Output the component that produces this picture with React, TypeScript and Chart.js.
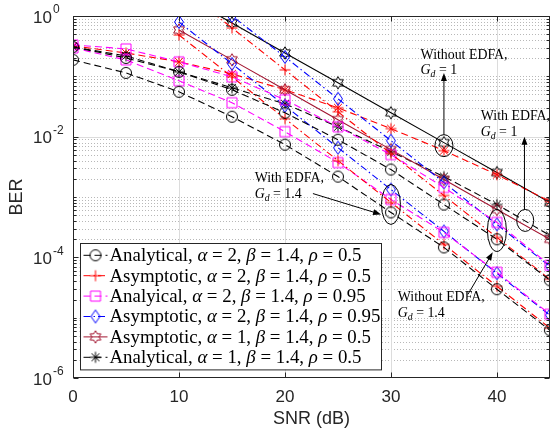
import React, { useEffect, useRef } from 'react';
import { Chart, registerables } from 'chart.js';

Chart.register(...registerables);

// SNR grids (dB)
const snrAnalytical = [0, 5, 10, 15, 20, 25, 30, 35, 40, 45];
const snrAsymptotic = [10, 15, 20, 25, 30, 35, 40, 45];

// Without EDFA, G_d = 1.4  (alpha = 2, beta = 1.4)
const anaA2R05NoEdfa = [0.307, 0.202, 0.119, 0.0598, 0.0249, 0.00891, 0.00285, 0.000751, 0.000199, 0.0000417];
const asyA2R05NoEdfa = [3.13, 0.634, 0.128, 0.0259, 0.00524, 0.00106, 0.000214, 0.0000433];
const anaA2R095NoEdfa = [0.332, 0.285, 0.174, 0.0982, 0.0409, 0.0146, 0.00504, 0.00144, 0.000379, 0.0000738];
const asyA2R095NoEdfa = [5.14, 1.0, 0.21, 0.0425, 0.00859, 0.00174, 0.000351, 0.000071];

// With EDFA, G_d = 1.4
const anaA2R05Edfa = [0.1875, 0.114, 0.0554, 0.0214, 0.00738, 0.00218, 0.000555, 0.000146, 0.0000296, 0.0000062];
const asyA2R05Edfa = [0.485, 0.0982, 0.0199, 0.00401, 0.000811, 0.000164, 0.0000332, 0.0000067];
const anaA2R095Edfa = [0.296, 0.1875, 0.0843, 0.0365, 0.0121, 0.00372, 0.00091, 0.000259, 0.0000565, 0.0000114];
const asyA2R095Edfa = [0.796, 0.161, 0.0325, 0.00658, 0.00133, 0.000269, 0.0000544, 0.000011];

// G_d = 1, alpha = 1, rho = 0.5
const anaA1NoEdfa = [0.319, 0.244, 0.174, 0.11, 0.0598, 0.0301, 0.0136, 0.00587, 0.00235, 0.000843];
const asyA1NoEdfa = [2.4, 0.766, 0.244, 0.0782, 0.0249, 0.00796, 0.00254, 0.000811];
const anaA1Edfa = [0.307, 0.218, 0.119, 0.0645, 0.0351, 0.0146, 0.00565, 0.00218, 0.000751, 0.000231];
const asyA1Edfa = [0.587, 0.1875, 0.0598, 0.0191, 0.0061, 0.00195, 0.000621, 0.000199];

// Axes
const xMin = 0;
const xMax = 45;
const yMin = 1e-6;
const yMax = 1;
const xTickValues = [0, 10, 20, 30, 40];
const yLabelExponents = [0, -2, -4, -6];

// Legend
const legendNames = ['Analytical', 'Asymptotic', 'Analyical', 'Asymptotic', 'Asymptotic', 'Analytical'];
const legendAlpha = ['2', '2', '2', '2', '1', '1'];
const legendBeta = ['1.4', '1.4', '1.4', '1.4', '1.4', '1.4'];
const legendRho = ['0.5', '0.5', '0.95', '0.95', '0.5', '0.5'];

// Annotation texts
const annLine1 = ['Without EDFA,', 'With EDFA,', 'With EDFA,', 'Without EDFA,'];
const annGd = ['1', '1', '1.4', '1.4'];

const BLACK = '#000000';
const RED = '#ff0000';
const MAGENTA = '#ff00ff';
const BLUE = '#0000ff';
const BROWN = '#a2142f';
const DASH = [7, 4];
const DASHDOT = [7, 3, 1.5, 3];
const SOLID: number[] = [];

const SERIF = "'Liberation Serif', 'DejaVu Serif', serif";
const SANS = "'Liberation Sans', Arial, 'DejaVu Sans', sans-serif";

type MarkerKind = 'circle' | 'plus' | 'square' | 'diamond' | 'hexagram' | 'asterisk';

function makeMarker(kind: MarkerKind, color: string): HTMLCanvasElement {
  const c = document.createElement('canvas');
  const S = 16;
  c.width = S;
  c.height = S;
  const g = c.getContext('2d')!;
  g.strokeStyle = color;
  g.lineWidth = 1;
  const m = S / 2;
  g.beginPath();
  if (kind === 'circle') {
    g.arc(m, m, 5.5, 0, Math.PI * 2);
  } else if (kind === 'plus') {
    g.moveTo(m - 5.5, m);
    g.lineTo(m + 5.5, m);
    g.moveTo(m, m - 5.5);
    g.lineTo(m, m + 5.5);
  } else if (kind === 'square') {
    g.rect(m - 5, m - 5, 10, 10);
  } else if (kind === 'diamond') {
    g.moveTo(m, m - 6.5);
    g.lineTo(m + 4.5, m);
    g.lineTo(m, m + 6.5);
    g.lineTo(m - 4.5, m);
    g.closePath();
  } else if (kind === 'hexagram') {
    const R = 6.2;
    const r = R / Math.sqrt(3);
    for (let i = 0; i < 12; i++) {
      const ang = -Math.PI / 2 + (i * Math.PI) / 6;
      const rr = i % 2 === 0 ? R : r;
      const px = m + rr * Math.cos(ang);
      const py = m + rr * Math.sin(ang);
      if (i === 0) g.moveTo(px, py);
      else g.lineTo(px, py);
    }
    g.closePath();
  } else if (kind === 'asterisk') {
    const R = 5.5;
    for (let i = 0; i < 4; i++) {
      const ang = (i * Math.PI) / 4;
      g.moveTo(m - R * Math.cos(ang), m - R * Math.sin(ang));
      g.lineTo(m + R * Math.cos(ang), m + R * Math.sin(ang));
    }
  }
  g.stroke();
  return c;
}

type Part = { t: string; it?: boolean; sub?: boolean };

function richWidth(ctx: CanvasRenderingContext2D, parts: Part[], size: number): number {
  let w = 0;
  for (const p of parts) {
    const fs = p.sub ? size * 0.7 : size;
    ctx.font = `${p.it ? 'italic ' : ''}${fs}px ${SERIF}`;
    w += ctx.measureText(p.t).width;
  }
  return w;
}

function drawRich(ctx: CanvasRenderingContext2D, parts: Part[], x: number, y: number, size: number) {
  let cx = x;
  for (const p of parts) {
    const fs = p.sub ? size * 0.7 : size;
    ctx.font = `${p.it ? 'italic ' : ''}${fs}px ${SERIF}`;
    ctx.fillText(p.t, cx, y + (p.sub ? size * 0.28 : 0));
    cx += ctx.measureText(p.t).width;
  }
}

function legendParts(i: number): Part[] {
  return [
    { t: legendNames[i] + ', ' },
    { t: 'α', it: true },
    { t: ' = ' + legendAlpha[i] + ', ' },
    { t: 'β', it: true },
    { t: ' = ' + legendBeta[i] + ', ' },
    { t: 'ρ', it: true },
    { t: ' = ' + legendRho[i] },
  ];
}

function gdParts(i: number): Part[] {
  return [{ t: 'G', it: true }, { t: 'd', it: true, sub: true }, { t: ' = ' + annGd[i] }];
}

export default function App() {
  const ref = useRef<HTMLCanvasElement>(null);

  useEffect(() => {
    const canvas = ref.current;
    if (!canvas) return;

    const mk = {
      circleK: makeMarker('circle', BLACK),
      plusR: makeMarker('plus', RED),
      squareM: makeMarker('square', MAGENTA),
      diamondB: makeMarker('diamond', BLUE),
      hexBr: makeMarker('hexagram', BROWN),
      hexK: makeMarker('hexagram', BLACK),
      astK: makeMarker('asterisk', BLACK),
      astR: makeMarker('asterisk', RED),
    };

    const series = [
      { label: 'Analytical a=2 rho=0.5 w/o EDFA', xs: snrAnalytical, ys: anaA2R05NoEdfa, color: BLACK, dash: DASH, marker: mk.circleK },
      { label: 'Analytical a=2 rho=0.5 EDFA', xs: snrAnalytical, ys: anaA2R05Edfa, color: BLACK, dash: DASH, marker: mk.circleK },
      { label: 'Asymptotic a=2 rho=0.5 w/o EDFA', xs: snrAsymptotic, ys: asyA2R05NoEdfa, color: RED, dash: DASHDOT, marker: mk.plusR },
      { label: 'Asymptotic a=2 rho=0.5 EDFA', xs: snrAsymptotic, ys: asyA2R05Edfa, color: RED, dash: DASHDOT, marker: mk.plusR },
      { label: 'Analytical a=2 rho=0.95 w/o EDFA', xs: snrAnalytical, ys: anaA2R095NoEdfa, color: MAGENTA, dash: DASH, marker: mk.squareM },
      { label: 'Analytical a=2 rho=0.95 EDFA', xs: snrAnalytical, ys: anaA2R095Edfa, color: MAGENTA, dash: DASH, marker: mk.squareM },
      { label: 'Asymptotic a=2 rho=0.95 w/o EDFA', xs: snrAsymptotic, ys: asyA2R095NoEdfa, color: BLUE, dash: DASHDOT, marker: mk.diamondB },
      { label: 'Asymptotic a=2 rho=0.95 EDFA', xs: snrAsymptotic, ys: asyA2R095Edfa, color: BLUE, dash: DASHDOT, marker: mk.diamondB },
      { label: 'Asymptotic a=1 EDFA Gd=1', xs: snrAsymptotic, ys: asyA1Edfa, color: BROWN, dash: SOLID, marker: mk.hexBr },
      { label: 'Analytical a=1 EDFA Gd=1', xs: snrAnalytical, ys: anaA1Edfa, color: BLACK, dash: DASH, marker: mk.astK },
      { label: 'Analytical a=1 w/o EDFA Gd=1', xs: snrAnalytical, ys: anaA1NoEdfa, color: RED, dash: DASH, marker: mk.astR },
      { label: 'Asymptotic a=1 w/o EDFA Gd=1', xs: snrAsymptotic, ys: asyA1NoEdfa, color: BLACK, dash: SOLID, marker: mk.hexK },
    ];

    const legendStyles = [
      { color: BLACK, dash: DASH, marker: mk.circleK },
      { color: RED, dash: DASHDOT, marker: mk.plusR },
      { color: MAGENTA, dash: DASH, marker: mk.squareM },
      { color: BLUE, dash: DASHDOT, marker: mk.diamondB },
      { color: BROWN, dash: SOLID, marker: mk.hexBr },
      { color: BLACK, dash: DASH, marker: mk.astK },
    ];

    // annotation anchors in data units (SNR dB, BER)
    const annotations = [
      { tx: 32.8, ty: 0.2266, ex: 35, ey: 0.0071, rx: 9, ry: 11, a0: [35, 'top'], a1: [35, 0.114] },
      { tx: 38.48, ty: 0.0214, ex: 42.67, ey: 0.000409, rx: 8.5, ry: 11, a0: [42.6, 'top'], a1: [42.6, 0.01] },
      { tx: 17.14, ty: 0.00202, ex: 30, ey: 0.000752, rx: 9.5, ry: 20, a0: [22.64, 0.00114], a1: [29.07, 0.000514] },
      { tx: 30.65, ty: 0.0000218, ex: 40, ey: 0.000279, rx: 9.5, ry: 21, a0: [37.27, 0.0000244], a1: [39.6, 0.000121] },
    ];

    const gridPlugin = {
      id: 'matlabGrid',
      beforeDatasetsDraw(chart: any) {
        const { ctx, chartArea: a, scales } = chart;
        const xs = scales.x;
        const ys = scales.y;
        ctx.save();
        ctx.fillStyle = '#ffffff';
        ctx.fillRect(a.left, a.top, a.right - a.left, a.bottom - a.top);
        // minor dotted horizontal grid
        ctx.strokeStyle = 'rgba(0,0,0,0.28)';
        ctx.lineWidth = 1;
        ctx.setLineDash([1, 2]);
        for (let e = 0; e >= -6; e--) {
          for (let m = 1; m <= 9; m++) {
            const v = m * Math.pow(10, e);
            if (v > yMax * 1.0001 || v < yMin * 0.9999) continue;
            if (m === 1 && e % 2 === 0) continue;
            const y = Math.round(ys.getPixelForValue(v)) + 0.5;
            ctx.beginPath();
            ctx.moveTo(a.left, y);
            ctx.lineTo(a.right, y);
            ctx.stroke();
          }
        }
        ctx.setLineDash([]);
        ctx.strokeStyle = '#dcdcdc';
        for (const e of yLabelExponents) {
          const y = Math.round(ys.getPixelForValue(Math.pow(10, e))) + 0.5;
          if (y < a.top + 2 || y > a.bottom - 2) continue;
          ctx.beginPath();
          ctx.moveTo(a.left, y);
          ctx.lineTo(a.right, y);
          ctx.stroke();
        }
        for (const t of xTickValues) {
          const x = Math.round(xs.getPixelForValue(t)) + 0.5;
          if (x < a.left + 2 || x > a.right - 2) continue;
          ctx.beginPath();
          ctx.moveTo(x, a.top);
          ctx.lineTo(x, a.bottom);
          ctx.stroke();
        }
        ctx.restore();
      },
    };

    const overlayPlugin = {
      id: 'overlay',
      afterDatasetsDraw(chart: any) {
        const { ctx, chartArea: a, scales } = chart;
        const xs = scales.x;
        const ys = scales.y;
        ctx.save();

        // ---- annotations ----
        ctx.fillStyle = '#000';
        ctx.strokeStyle = '#000';
        ctx.lineWidth = 1;
        ctx.textBaseline = 'middle';
        ctx.textAlign = 'left';
        const annSize = 87 / richWidth(ctx, [{ t: 'Without EDFA,' }], 10) * 10;
        annotations.forEach((an, i) => {
          const tx = xs.getPixelForValue(an.tx);
          const ty = ys.getPixelForValue(an.ty);
          drawRich(ctx, [{ t: annLine1[i] }], tx, ty, annSize);
          drawRich(ctx, gdParts(i), tx, ty + annSize * 1.15, annSize);
          const ex = xs.getPixelForValue(an.ex);
          const ey = ys.getPixelForValue(an.ey);
          ctx.beginPath();
          ctx.ellipse(ex, ey, an.rx, an.ry, 0, 0, Math.PI * 2);
          ctx.stroke();
          const x0 = xs.getPixelForValue(an.a0[0] as number);
          const y0 = an.a0[1] === 'top' ? ey - an.ry : ys.getPixelForValue(an.a0[1] as number);
          const x1 = xs.getPixelForValue(an.a1[0] as number);
          const y1 = ys.getPixelForValue(an.a1[1] as number);
          const ang = Math.atan2(y1 - y0, x1 - x0);
          const hl = 8;
          const hw = 3;
          ctx.beginPath();
          ctx.moveTo(x0, y0);
          ctx.lineTo(x1 - hl * 0.8 * Math.cos(ang), y1 - hl * 0.8 * Math.sin(ang));
          ctx.stroke();
          ctx.beginPath();
          ctx.moveTo(x1, y1);
          ctx.lineTo(x1 - hl * Math.cos(ang) + hw * Math.sin(ang), y1 - hl * Math.sin(ang) - hw * Math.cos(ang));
          ctx.lineTo(x1 - hl * Math.cos(ang) - hw * Math.sin(ang), y1 - hl * Math.sin(ang) + hw * Math.cos(ang));
          ctx.closePath();
          ctx.fill();
        });

        // ---- legend ----
        const lgLeft = a.left + 6.5;
        const lgBottom = a.bottom - 8.5;
        const lgW = 301;
        const rowH = 20.4;
        const lgH = rowH * legendNames.length + 4;
        const lgTop = lgBottom - lgH;
        ctx.fillStyle = '#ffffff';
        ctx.fillRect(lgLeft, lgTop, lgW, lgH);
        ctx.strokeStyle = '#262626';
        ctx.lineWidth = 1;
        ctx.strokeRect(Math.round(lgLeft) + 0.5, Math.round(lgTop) + 0.5, lgW, lgH);
        const lgSize = 252 / richWidth(ctx, legendParts(0), 10) * 10;
        legendStyles.forEach((st, i) => {
          const cy = lgTop + 2 + rowH * (i + 0.5);
          ctx.strokeStyle = st.color;
          ctx.lineWidth = 1;
          ctx.setLineDash(st.dash);
          ctx.beginPath();
          ctx.moveTo(lgLeft + 4, cy);
          ctx.lineTo(lgLeft + 28, cy);
          ctx.stroke();
          ctx.setLineDash([]);
          ctx.drawImage(st.marker, lgLeft + 16 - st.marker.width / 2, cy - st.marker.height / 2);
          ctx.fillStyle = '#000';
          drawRich(ctx, legendParts(i), lgLeft + 30, cy + 1, lgSize);
        });

        // ---- axes box & ticks ----
        ctx.strokeStyle = '#262626';
        ctx.lineWidth = 1;
        const L = Math.round(a.left) + 0.5;
        const R = Math.round(a.right) - 0.5;
        const T = Math.round(a.top) + 0.5;
        const B = Math.round(a.bottom) - 0.5;
        ctx.strokeRect(L, T, R - L, B - T);
        ctx.beginPath();
        for (const t of xTickValues) {
          const x = Math.round(xs.getPixelForValue(t)) + 0.5;
          ctx.moveTo(x, B);
          ctx.lineTo(x, B - 5);
          ctx.moveTo(x, T);
          ctx.lineTo(x, T + 5);
        }
        for (let e = 0; e >= -6; e--) {
          for (let m = 1; m <= 9; m++) {
            const v = m * Math.pow(10, e);
            if (v > yMax * 1.0001 || v < yMin * 0.9999) continue;
            const major = m === 1 && e % 2 === 0;
            const len = major ? 5 : 3;
            const y = Math.round(ys.getPixelForValue(v)) + 0.5;
            ctx.moveTo(L, y);
            ctx.lineTo(L + len, y);
            ctx.moveTo(R, y);
            ctx.lineTo(R - len, y);
          }
        }
        ctx.stroke();

        // tick labels
        ctx.fillStyle = '#262626';
        ctx.textAlign = 'center';
        ctx.textBaseline = 'middle';
        ctx.font = `17px ${SANS}`;
        for (const t of xTickValues) {
          ctx.fillText(String(t), xs.getPixelForValue(t), a.bottom + 19);
        }
        ctx.textAlign = 'left';
        for (const e of yLabelExponents) {
          const y = ys.getPixelForValue(Math.pow(10, e));
          ctx.font = `17px ${SANS}`;
          ctx.fillText('10', 33, y + 2);
          const w = ctx.measureText('10').width;
          ctx.font = `12px ${SANS}`;
          ctx.fillText(String(e), 33 + w + 1, y - 6);
        }

        // axis titles
        ctx.font = `18px ${SANS}`;
        ctx.textAlign = 'center';
        ctx.fillText('SNR (dB)', (a.left + a.right) / 2, a.bottom + 41);
        ctx.save();
        ctx.translate(17, (a.top + a.bottom) / 2);
        ctx.rotate(-Math.PI / 2);
        ctx.fillText('BER', 0, 0);
        ctx.restore();

        ctx.restore();
      },
    };

    const chart = new Chart(canvas, {
      type: 'line',
      data: {
        datasets: series.map((s) => ({
          label: s.label,
          data: s.xs.map((x, i) => ({ x, y: s.ys[i] })),
          borderColor: s.color,
          backgroundColor: s.color,
          borderWidth: 1.1,
          borderDash: s.dash,
          pointStyle: s.marker as any,
          pointRadius: 6,
          pointHoverRadius: 6,
          fill: false,
          tension: 0,
        })),
      },
      options: {
        responsive: false,
        maintainAspectRatio: false,
        animation: false,
        devicePixelRatio: 1,
        layout: { padding: { left: 73, right: 1, top: 16, bottom: 52 } },
        scales: {
          x: { type: 'linear', min: xMin, max: xMax, display: false },
          y: { type: 'logarithmic', min: yMin, max: yMax, display: false },
        },
        plugins: {
          legend: { display: false },
          tooltip: { enabled: false },
        },
        events: [],
      },
      plugins: [gridPlugin, overlayPlugin],
    } as any);

    return () => chart.destroy();
  }, []);

  return (
    <div style={{ position: 'fixed', left: 0, top: 0, width: 557, height: 430, background: '#ffffff' }}>
      <canvas ref={ref} width={557} height={430} style={{ display: 'block', width: 557, height: 430 }} />
    </div>
  );
}
